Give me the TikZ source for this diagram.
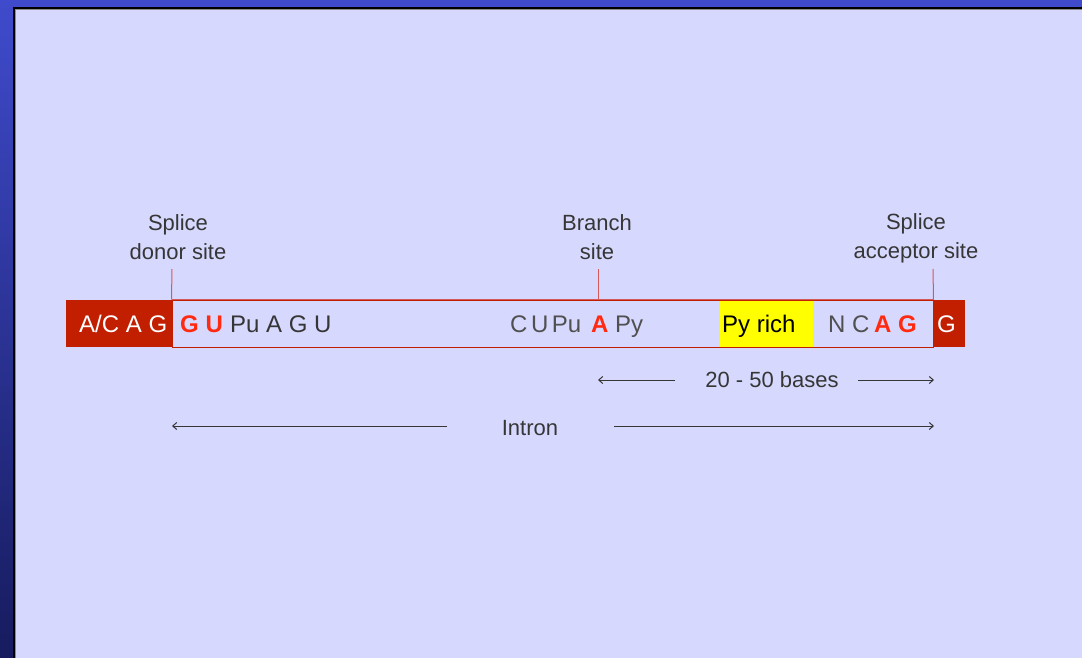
\documentclass[tikz,border=0pt]{standalone}
\usepackage{fontspec}
\setmainfont{Liberation Sans}
\usetikzlibrary{arrows.meta}
\definecolor{frameblue}{HTML}{3F4BCC}
\definecolor{framedark}{HTML}{171B5E}
\definecolor{panel}{HTML}{D6D8FE}
\definecolor{exonred}{HTML}{C21E00}
\definecolor{hotred}{HTML}{FF2A10}
\definecolor{tickred}{HTML}{D45A5A}
\definecolor{ink}{HTML}{363636}
\definecolor{softink}{HTML}{505050}
\definecolor{pyyellow}{HTML}{FFFF00}
\begin{document}
\begin{tikzpicture}[x=1pt,y=-1pt,
  lbl/.style={text=ink, font=\fontsize{22}{29}\selectfont, align=center, inner sep=0pt},
  seq/.style={font=\fontsize{24}{28}\selectfont, inner sep=0pt, anchor=base west},
  exon/.style={fill=exonred, draw=none, inner sep=0pt},
  tickline/.style={draw=tickred, line width=1pt},
  span/.style={draw=ink, line width=1pt, -{Straight Barb[length=4pt,width=7pt]}}
]
\useasboundingbox (0,0) rectangle (1082,658);

% slide frame and panel
\fill[frameblue] (0,0) rectangle (1082,8);
\shade[top color=frameblue, bottom color=framedark] (0,0) rectangle (13,658);
\fill[panel] (13,8) rectangle (1082,658);
\draw[black, line width=2pt] (14,658) -- (14,8) -- (1082,8);
\draw[black!45, line width=1pt] (15.5,658) -- (15.5,9.5) -- (1082,9.5);

% pre-mRNA strip
\node[exon, minimum width=106pt, minimum height=47pt] (exonL) at (119,323.5) {};
\node[draw=exonred, line width=1pt, fill=panel, minimum width=761pt, minimum height=47pt, inner sep=0pt] (intron) at (552.5,323.5) {};
\draw[tickred, line width=1pt] (intron.north west) -- (intron.north east);
\node[fill=pyyellow, inner sep=0pt, minimum width=93pt, minimum height=46pt] (pyr) at (766.5,323.5) {};
\node[exon, minimum width=32pt, minimum height=47pt] (exonR) at (949,323.5) {};

% sequence text
\node[seq, text=white] (s1) at (79,332) {A/C A G};
\node[seq, text=hotred, font=\fontsize{24}{28}\bfseries] (s2) at (180,332) {G U};
\node[seq, text=ink] (s3) at (230,332) {Pu A G U};
\node[seq, text=softink] (s4) at (510,332) {C\hspace{3.5pt}U\hspace{3.5pt}Pu};
\node[seq, text=hotred, font=\fontsize{24}{28}\bfseries] (s5) at (591,332) {A};
\node[seq, text=softink] (s6) at (615,332) {Py};
\node[seq, text=black] (s7) at (722,332) {Py rich};
\node[seq, text=softink] (s8) at (828,332) {N C};
\node[seq, text=hotred, font=\fontsize{24}{28}\bfseries] (s9) at (874,332) {A G};
\node[seq, text=white] (s10) at (937,332) {G};

% site labels and their ticks
\node[lbl] (donor) at (178,237) {Splice\\donor site};
\node[lbl] (branch) at (597,237) {Branch\\site};
\node[lbl] (acceptor) at (916,238) {Splice\\acceptor site};
\coordinate (donorTop) at (172,269);
\coordinate (branchTop) at (598,269);
\coordinate (branchPt) at (598,300);
\coordinate (acceptorTop) at (933,269);
\draw[tickline] (donorTop) -- (intron.north west);
\draw[tickline] (branchTop) -- (branchPt);
\draw[tickline] (acceptorTop) -- (intron.north east);

% distance spans
\node[lbl] (bases) at (772,380) {20 - 50 bases};
\coordinate (basesL0) at (675,380);
\coordinate (basesL1) at (598,380);
\coordinate (basesR0) at (858,380);
\coordinate (basesR1) at (934,380);
\draw[span] (basesL0) -- (basesL1);
\draw[span] (basesR0) -- (basesR1);

\node[lbl] (intronlbl) at (530,428) {Intron};
\coordinate (intL0) at (447,426);
\coordinate (intL1) at (172,426);
\coordinate (intR0) at (614,426);
\coordinate (intR1) at (934,426);
\draw[span] (intL0) -- (intL1);
\draw[span] (intR0) -- (intR1);
\end{tikzpicture}
\end{document}
